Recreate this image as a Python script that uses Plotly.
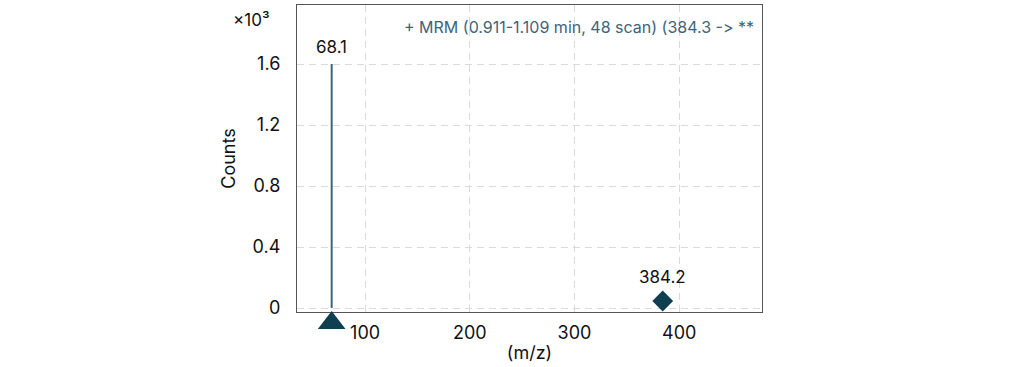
import plotly.graph_objects as go

# Data
peak_mz = [68.1, 384.2]
peak_counts = [1600, 46]
peak_labels = ["68.1", "384.2"]
precursor_mz = [68.1]
title_text = "+ MRM (0.911-1.109 min, 48 scan) (384.3 -\u200c> **"
x_ticks = [100, 200, 300, 400]
y_ticks = [0, 400, 800, 1200, 1600]
y_ticklabels = ["0", "0.4", "0.8", "1.2", "1.6"]

x_range = [35, 479]
y_range = [-26, 1987]

FONT = "Inter, Liberation Sans, sans-serif"
STEM = "#3e6478"
DARK = "#0f3f50"
GRID = "#dadada"
AXIS = "#555555"

fig = go.Figure()

# Stem for the main peak
fig.add_trace(go.Scatter(
    x=[peak_mz[0], peak_mz[0]], y=[0, peak_counts[0]],
    mode="lines", line=dict(color=STEM, width=2),
    hoverinfo="skip", showlegend=False,
))
# Diamond peak
fig.add_trace(go.Scatter(
    x=[peak_mz[1]], y=[peak_counts[1]], mode="markers",
    marker=dict(symbol="diamond", size=16, color=DARK),
    showlegend=False, cliponaxis=False,
))
# Precursor triangle (in a thin helper strip just below the main plot)
fig.add_trace(go.Scatter(
    x=precursor_mz, y=[0.45], mode="markers", xaxis="x2", yaxis="y2",
    marker=dict(symbol="triangle-up", size=24, color=DARK),
    showlegend=False, cliponaxis=False,
))

# Peak labels
fig.add_annotation(x=peak_mz[0], y=peak_counts[0], text=peak_labels[0],
                   showarrow=False, yanchor="bottom", yshift=5,
                   font=dict(family=FONT, size=17, color="#111111"))
fig.add_annotation(x=peak_mz[1], y=peak_counts[1], text=peak_labels[1],
                   showarrow=False, yanchor="bottom", yshift=12,
                   font=dict(family=FONT, size=17, color="#111111"))

fig.add_annotation(
    x=1, y=1, xref="paper", yref="paper", xanchor="right", yanchor="top",
    xshift=-6, yshift=-10, text=title_text, showarrow=False,
    font=dict(family=FONT, size=16, color="#3e6478"),
)
fig.add_annotation(
    x=0, y=1, xref="paper", yref="paper", xanchor="right", yanchor="middle",
    xshift=-26, yshift=-15, text="×10³", showarrow=False,
    font=dict(family=FONT, size=17, color="#111111"),
)

split = 20 / 327

fig.update_layout(
    width=1016, height=367,
    margin=dict(l=297, r=254, t=5, b=35),
    paper_bgcolor="white", plot_bgcolor="white",
    font=dict(family=FONT, size=18, color="#111111"),
    xaxis=dict(
        range=x_range, tickvals=x_ticks, showgrid=True,
        gridcolor=GRID, griddash="7px,5px", gridwidth=1,
        showline=True, linecolor=AXIS, linewidth=1.2, mirror=True,
        zeroline=False, ticks="", ticklabelstandoff=4, anchor="y",
        title=dict(text="(m/z)", font=dict(family=FONT, size=18), standoff=4),
    ),
    yaxis=dict(
        range=y_range, tickvals=y_ticks, ticktext=y_ticklabels,
        domain=[split, 1], anchor="x",
        showgrid=True, gridcolor=GRID, griddash="7px,5px", gridwidth=1,
        showline=True, linecolor=AXIS, linewidth=1.2, mirror=True,
        zeroline=False, ticks="", ticklabelstandoff=12,
        title=dict(text="Counts", font=dict(family=FONT, size=18), standoff=12),
    ),
    xaxis2=dict(matches="x", anchor="y2", visible=False, showgrid=False),
    yaxis2=dict(range=[0, 1], domain=[0, split], anchor="x2",
                visible=False, showgrid=False),
)

fig.write_html("out.html", config={"displayModeBar": False},
               post_script="document.body.style.margin='0';")
